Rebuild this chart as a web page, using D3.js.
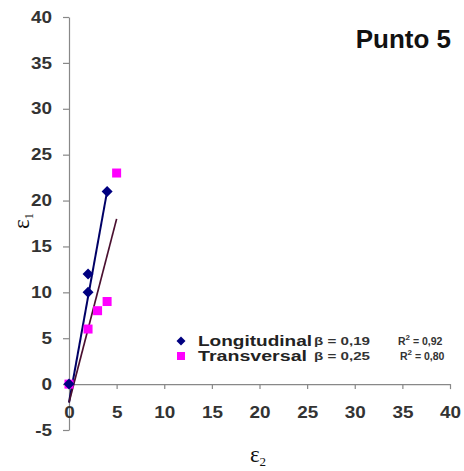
<!DOCTYPE html>
<html><head><meta charset="utf-8">
<script src="https://cdn.jsdelivr.net/npm/d3@7"></script>
<style>body{margin:0;background:#fff}svg{display:block}</style>
</head><body>
<svg id="c" width="464" height="471"></svg>
<script>
const xTicks = [0,5,10,15,20,25,30,35,40];
const yTicks = [-5,0,5,10,15,20,25,30,35,40];
const longX = [0,2,2,4];
const longY = [0,10,12,21];
const transX = [0,2,3,4,5];
const transY = [0,6,8,9,23];
const longFitX = [0,4];
const longFitY = [-2,21];
const transFitX = [0,5];
const transFitY = [-2,18];
const seriesNames = ["Longitudinal","Transversal"];
const betaLabels = ["β = 0,19","β = 0,25"];
const r2Values = ["0,92","0,80"];
const title = "Punto 5";

const svg = d3.select("#c");
const x = d3.scaleLinear().domain([0,40]).range([69,450]);
const y = d3.scaleLinear().domain([-5,40]).range([430,17]);
const axisCol = "#888";
const font = "Arial, 'Liberation Sans', sans-serif";

const ya = svg.append("g").attr("transform",`translate(${x(0)},0)`)
  .call(d3.axisLeft(y).tickValues(yTicks).tickSize(6).tickSizeOuter(0).tickPadding(11)
    .tickFormat(d=>String(d)));
const xa = svg.append("g").attr("transform",`translate(0,${y(0)})`)
  .call(d3.axisBottom(x).tickValues(xTicks).tickSize(5).tickSizeOuter(0).tickPadding(18));
[ya,xa].forEach(a=>{
  a.selectAll("path,line").attr("stroke",axisCol).attr("stroke-width",1.2);
  a.selectAll("text").attr("fill","#333").attr("font-family",font)
   .attr("font-size",16).attr("font-weight","bold")
   .each(function(){
     const w = this.getComputedTextLength();
     d3.select(this).attr("textLength", w*1.18).attr("lengthAdjust","spacingAndGlyphs");
   });
});

const line = d3.line().x(d=>x(d[0])).y(d=>y(d[1]));
svg.append("path").datum(longFitX.map((v,i)=>[v,longFitY[i]]))
  .attr("d",line).attr("stroke","#000066").attr("stroke-width",2).attr("fill","none");
svg.append("path").datum(transFitX.map((v,i)=>[v,transFitY[i]]))
  .attr("d",line).attr("stroke","#4a1030").attr("stroke-width",1.7).attr("fill","none");

svg.append("g").selectAll("rect").data(transX.map((v,i)=>[v,transY[i]])).join("rect")
  .attr("x",d=>x(d[0])-4.5).attr("y",d=>y(d[1])-4.5).attr("width",9).attr("height",9)
  .attr("fill","#ff00ff");
const dia = r => `M0,${-r}L${r},0L0,${r}L${-r},0Z`;
svg.append("g").selectAll("path").data(longX.map((v,i)=>[v,longY[i]])).join("path")
  .attr("d",dia(5.5)).attr("transform",d=>`translate(${x(d[0])},${y(d[1])})`)
  .attr("fill","#000080");

svg.append("text").attr("x",451).attr("y",48).attr("text-anchor","end")
  .attr("font-family",font).attr("font-weight","bold").attr("font-size",26)
  .attr("fill","#111").text(title);

const yl = svg.append("text").attr("transform","translate(29,221) rotate(-90)")
  .attr("text-anchor","middle").attr("font-family","'Liberation Serif', serif")
  .attr("font-size",23).attr("fill","#111");
yl.append("tspan").text("ε");
yl.append("tspan").attr("font-size",13).attr("dy",4).text("1");
const xl = svg.append("text").attr("x",258).attr("y",462)
  .attr("text-anchor","middle").attr("font-family","'Liberation Serif', serif")
  .attr("font-size",23).attr("fill","#111");
xl.append("tspan").text("ε");
xl.append("tspan").attr("font-size",13).attr("dy",4).text("2");

const rows = [341,356];
svg.append("path").attr("d",dia(4.5))
  .attr("transform",`translate(181,${rows[0]})`).attr("fill","#000080");
svg.append("rect").attr("x",177).attr("y",rows[1]-4).attr("width",8).attr("height",8)
  .attr("fill","#ff00ff");
const nameLen = [114,109];
seriesNames.forEach((n,i)=>{
  svg.append("text").attr("x",198).attr("y",rows[i]+5).attr("font-family",font)
    .attr("font-size",14.5).attr("font-weight","bold").attr("fill","#222")
    .attr("textLength",nameLen[i]).attr("lengthAdjust","spacingAndGlyphs").text(n);
  svg.append("text").attr("x",314).attr("y",rows[i]+4).attr("font-family",font)
    .attr("font-size",10.5).attr("font-weight","bold").attr("fill","#333")
    .attr("textLength",56).attr("lengthAdjust","spacingAndGlyphs").text(betaLabels[i]);
  const t = svg.append("text").attr("x",i===0?398:400).attr("y",rows[i]+4).attr("font-family",font)
    .attr("font-size",10.5).attr("font-weight","bold").attr("fill","#333");
  t.append("tspan").text("R");
  t.append("tspan").attr("font-size",8).attr("dy",-5).text("2");
  t.append("tspan").attr("dy",5).text(" = "+r2Values[i]);
});
</script>
</body></html>
